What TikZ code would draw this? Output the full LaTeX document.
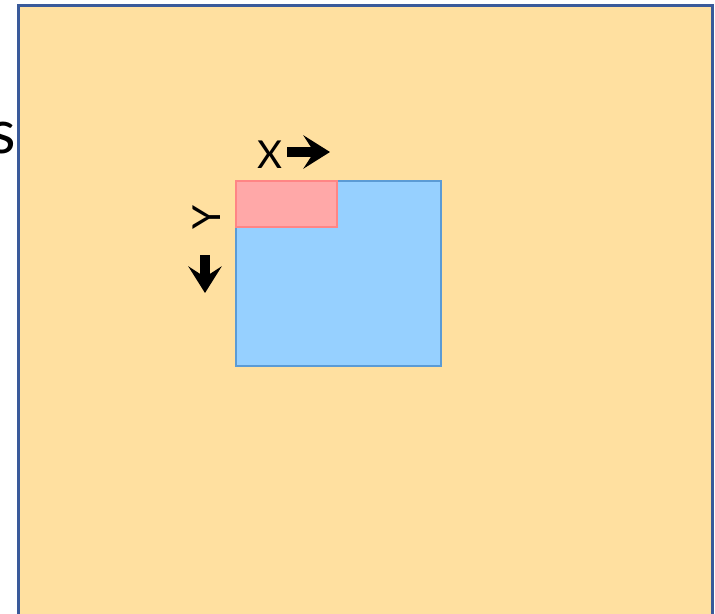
\documentclass[tikz,border=0pt]{standalone}
\usepackage{fontspec}
\setmainfont{Lato}
\usepackage{xcolor}
\definecolor{mysand}{HTML}{FFE0A0}
\definecolor{myframe}{HTML}{3A5A9A}
\definecolor{myblue}{HTML}{96D0FF}
\definecolor{myblueedge}{HTML}{5B9BD5}
\definecolor{mypink}{HTML}{FFA8A8}
\definecolor{mypinkedge}{HTML}{FF8585}
\usetikzlibrary{arrows.meta}
\tikzset{
  bigarrow/.style={line width=7.5pt,-{Stealth[length=20pt,width=25pt,inset=8pt]}},
  axislabel/.style={font=\fontsize{29}{29}\selectfont,inner sep=0pt}
}
\begin{document}
\begin{tikzpicture}[x=0.0264583cm,y=-0.0264583cm]
        \useasboundingbox (0,0) rectangle (715,613);
        \fill[white] (0,0) rectangle (715,613);
        \draw[myframe,fill=mysand,line width=2.25pt] (18.5,5.5) rectangle (712.5,640);
        \node[anchor=base east,inner sep=0pt,font=\fontsize{46}{46}\selectfont] (cut) at (16,153) {s};
        \draw[myblueedge,fill=myblue,line width=1.5pt] (236,181) rectangle (441,366);
        \draw[mypinkedge,fill=mypink,line width=1.5pt] (236,181) rectangle (337,227);
        \node[axislabel,anchor=base] (xlab) at (270,168) {X};
        \node[axislabel,rotate=90,anchor=base] (ylab) at (220,217) {Y};
        \coordinate (xa) at (287,152);
        \coordinate (xb) at (330,152);
        \coordinate (ya) at (205,255);
        \coordinate (yb) at (205,293);
        \draw[bigarrow] (xa) -- (xb);
        \draw[bigarrow] (ya) -- (yb);
      \end{tikzpicture}
\end{document}
